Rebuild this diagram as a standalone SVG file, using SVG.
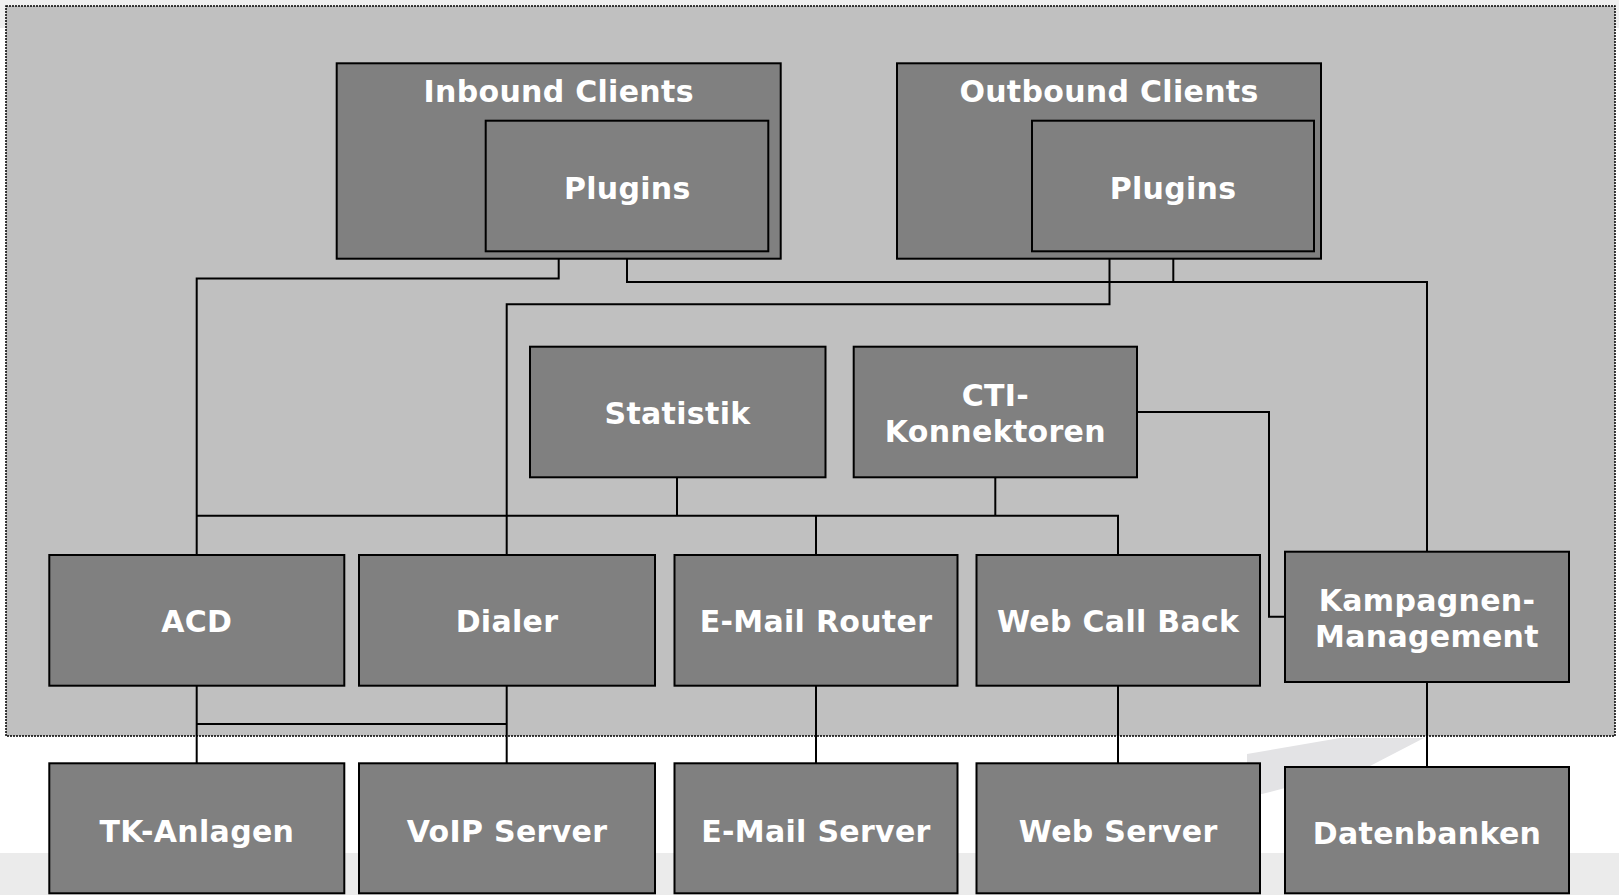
<svg xmlns="http://www.w3.org/2000/svg" width="1619" height="895" viewBox="0 0 1619 895">
<style>
.box{fill:#808080;stroke:#000;stroke-width:2}
.lbl{fill:#fff;font-family:"DejaVu Sans","Verdana",sans-serif;font-weight:bold;font-size:30px;letter-spacing:0.3px;text-anchor:middle}
.conn{fill:none;stroke:#000;stroke-width:2}
</style>
<rect x="0" y="0" width="1619" height="895" fill="#ffffff"/>
<rect x="0" y="0" width="1619" height="28" fill="#efefef"/>
<rect x="0" y="853" width="1619" height="42" fill="#ebebeb"/>
<g id="frame">
<rect x="6" y="6" width="1609" height="730" fill="#c0c0c0" stroke="#000" stroke-width="1.5" stroke-dasharray="2 1"/>
</g>
<polygon points="1247,754 1340,738 1424,738 1370,766 1285,788 1262,794 1247,794" fill="#e3e3e5"/>
<g id="connectors">
<path class="conn" d="M558.7,259 V278.5 H196.7 V555"/>
<path class="conn" d="M627,251.3 V282 H1427 V551.7"/>
<path class="conn" d="M1173.3,251.3 V282"/>
<path class="conn" d="M1109.5,259 V304.3 H506.7 V555"/>
<path class="conn" d="M196.7,515.7 H1118 V555"/>
<path class="conn" d="M677,477.3 V515.7"/>
<path class="conn" d="M995.3,477.3 V515.7"/>
<path class="conn" d="M816,515.7 V555"/>
<path class="conn" d="M1137,412 H1269 V616.7 H1285"/>
<path class="conn" d="M196.7,685.7 V763.3"/>
<path class="conn" d="M506.7,685.7 V763.3"/>
<path class="conn" d="M196.7,724 H506.7"/>
<path class="conn" d="M816,685.7 V763.3"/>
<path class="conn" d="M1118,685.7 V763.3"/>
<path class="conn" d="M1427,682 V767"/>
</g>
<g id="inbound-clients">
<rect class="box" x="336.7" y="63.3" width="444" height="195.4"/>
<text class="lbl" x="558.7" y="102">Inbound Clients</text>
</g>
<g id="inbound-plugins">
<rect class="box" x="485.7" y="120.7" width="282.6" height="130.6"/>
<text class="lbl" x="627.3" y="198.5">Plugins</text>
</g>
<g id="outbound-clients">
<rect class="box" x="897" y="63.3" width="424" height="195.4"/>
<text class="lbl" x="1109" y="102">Outbound Clients</text>
</g>
<g id="outbound-plugins">
<rect class="box" x="1032" y="120.7" width="282" height="130.6"/>
<text class="lbl" x="1173" y="198.5">Plugins</text>
</g>
<g id="statistik">
<rect class="box" x="530" y="346.7" width="295.5" height="130.6"/>
<text class="lbl" x="677.5" y="424">Statistik</text>
</g>
<g id="cti">
<rect class="box" x="853.7" y="346.7" width="283.3" height="130.6"/>
<text class="lbl" x="995.3" y="405.5">CTI-</text>
<text class="lbl" x="995.3" y="442">Konnektoren</text>
</g>
<g id="acd">
<rect class="box" x="49.3" y="555" width="295" height="130.7"/>
<text class="lbl" x="196.8" y="632">ACD</text>
</g>
<g id="dialer">
<rect class="box" x="359" y="555" width="296" height="130.7"/>
<text class="lbl" x="507" y="632">Dialer</text>
</g>
<g id="email-router">
<rect class="box" x="674.5" y="555" width="283" height="130.7"/>
<text class="lbl" x="816" y="632">E-Mail Router</text>
</g>
<g id="web-call-back">
<rect class="box" x="976.5" y="555" width="283.5" height="130.7"/>
<text class="lbl" x="1118.2" y="632">Web Call Back</text>
</g>
<g id="kampagnen">
<rect class="box" x="1285" y="551.7" width="284" height="130.3"/>
<text class="lbl" x="1427" y="611">Kampagnen-</text>
<text class="lbl" x="1427" y="647">Management</text>
</g>
<g id="tk-anlagen">
<rect class="box" x="49.3" y="763.3" width="295" height="130"/>
<text class="lbl" x="196.8" y="841.5">TK-Anlagen</text>
</g>
<g id="voip-server">
<rect class="box" x="359" y="763.3" width="296" height="130"/>
<text class="lbl" x="507" y="841.5">VoIP Server</text>
</g>
<g id="email-server">
<rect class="box" x="674.5" y="763.3" width="283" height="130"/>
<text class="lbl" x="816" y="841.5">E-Mail Server</text>
</g>
<g id="web-server">
<rect class="box" x="976.5" y="763.3" width="283.5" height="130"/>
<text class="lbl" x="1118.2" y="841.5">Web Server</text>
</g>
<g id="datenbanken">
<rect class="box" x="1285" y="767" width="284" height="126.3"/>
<text class="lbl" x="1427" y="843.5">Datenbanken</text>
</g>
</svg>
